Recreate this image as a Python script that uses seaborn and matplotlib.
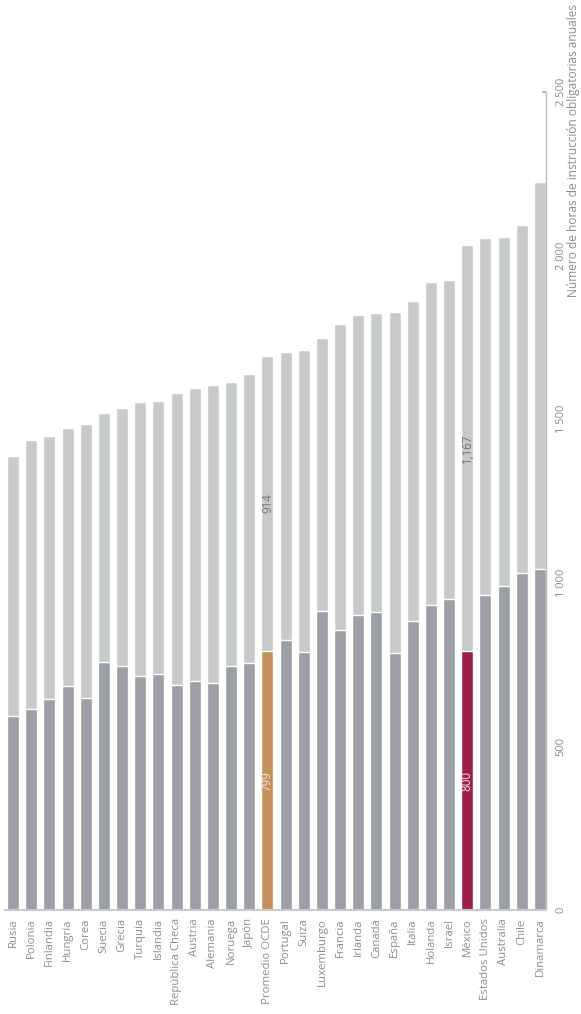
import matplotlib
matplotlib.use("Agg")
import matplotlib.pyplot as plt
import seaborn as sns
import pandas as pd

countries = ["Rusia", "Polonia", "Finlandia", "Hungría", "Corea", "Suecia", "Grecia",
             "Turquía", "Islandia", "República Checa", "Austria", "Alemania", "Noruega",
             "Japón", "Promedio OCDE", "Portugal", "Suiza", "Luxemburgo", "Francia",
             "Irlanda", "Canadá", "España", "Italia", "Holanda", "Israel", "México",
             "Estados Unidos", "Australia", "Chile", "Dinamarca"]
# lower (dark) segment
primary = [592, 613, 644, 684, 647, 758, 745, 715, 721, 687, 699, 693, 745, 754,
           791, 825, 788, 914, 856, 902, 911, 785, 883, 932, 951, 791,
           963, 991, 1031, 1043]
# total height (dark + light)
total = [1389, 1435, 1448, 1472, 1485, 1518, 1534, 1552, 1555, 1580, 1595, 1604,
         1613, 1639, 1694, 1706, 1713, 1749, 1792, 1817, 1826, 1829, 1862, 1920,
         1924, 2031, 2055, 2058, 2095, 2226]
highlight = {"Promedio OCDE": "#c4905a", "México": "#9e1f49"}
label_low = {"Promedio OCDE": "799", "México": "800"}
label_high = {"Promedio OCDE": "914", "México": "1,167"}
tick_values = [0, 500, 1000, 1500, 2000, 2500]
tick_labels = ["0", "500", "1 000", "1 500", "2 000", "2 500"]
axis_title = "Número de horas de instrucción obligatorias anuales"

DARK = "#9ca0a4"
LIGHT = "#c6cbca"
TEXT = "#8a8d90"

sns.set_theme(style="white")
plt.rcParams["font.family"] = ["Open Sans", "DejaVu Sans"]

df = pd.DataFrame({"country": countries, "primary": primary, "total": total})

fig = plt.figure(figsize=(5.81, 10.14), dpi=100)
ax = fig.add_axes([5 / 581, 1 - 910 / 1014, 541 / 581, 818 / 1014])

sns.barplot(data=df, x="country", y="total", hue="country",
            palette=[LIGHT] * len(countries), width=0.66, legend=False,
            ax=ax, saturation=1, order=countries, hue_order=countries)
sns.barplot(data=df, x="country", y="primary", hue="country",
            palette=[highlight.get(c, DARK) for c in countries], width=0.66,
            legend=False, ax=ax, saturation=1, order=countries, hue_order=countries)

ax.set_xlim(-0.44, len(countries) - 1 + 0.33)
ax.set_ylim(0, 2500)

for i, c in enumerate(countries):
    if c in label_low:
        ax.text(i, primary[i] / 2, label_low[c], rotation=90, ha="center", va="center",
                color="#f3e6e6", fontsize=8.3)
        ax.text(i, (primary[i] + total[i]) / 2, label_high[c], rotation=90,
                ha="center", va="center", color="#6f7478", fontsize=8.3)

ax.set_xlabel("")
ax.set_ylabel("")
ax.set_xticks(range(len(countries)))
ax.set_xticklabels(countries, rotation=90, fontsize=8.2, color=TEXT, va="top", ha="center")
ax.tick_params(axis="x", length=0, pad=6)

ax.yaxis.tick_right()
ax.set_yticks(tick_values)
ax.set_yticklabels(tick_labels, rotation=90, va="center", fontsize=8, color=TEXT)
ax.tick_params(axis="y", direction="in", length=3, color="#b0b4b6", pad=7, right=True, left=False)

for s in ["top", "left"]:
    ax.spines[s].set_visible(False)
ax.spines["right"].set_color("#b8bcbe")
ax.spines["right"].set_linewidth(1)
ax.spines["bottom"].set_color("#c6cbca")
ax.spines["bottom"].set_linewidth(1.5)

fig.text(573 / 581, 1 - 4 / 1014, axis_title, rotation=90, ha="center", va="top",
         fontsize=8.6, color=TEXT)

fig.savefig("out.png", dpi=100, facecolor="white")
